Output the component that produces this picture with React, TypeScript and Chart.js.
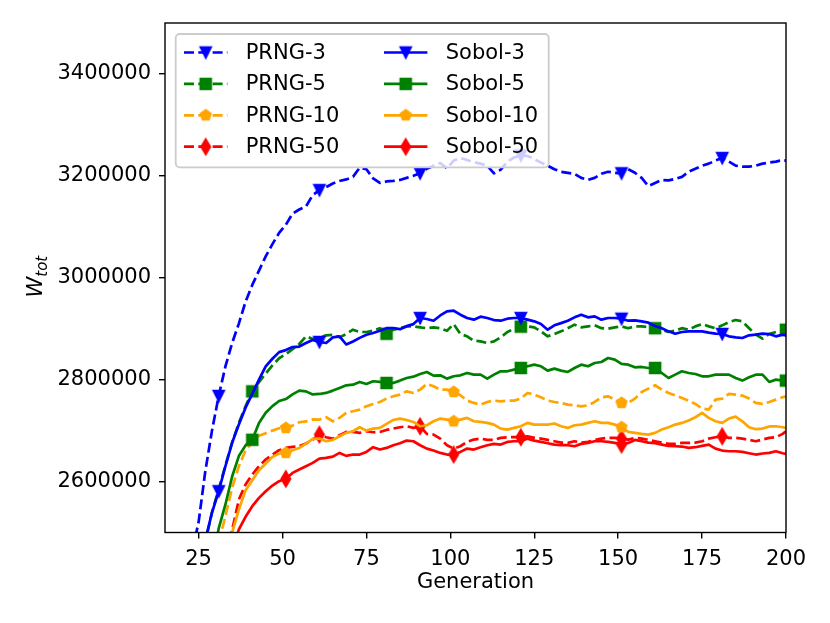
import { useEffect, useRef } from 'react'
import { Chart, registerables } from 'chart.js'

Chart.register(...registerables)

const generations = [
  21, 23, 25, 27, 29, 31, 33, 35, 37, 39, 41, 43, 45, 47, 49, 51, 53, 55, 57, 59,
  61, 63, 65, 67, 69, 71, 73, 75, 77, 79, 81, 83, 85, 87, 89, 91, 93, 95, 97, 99,
  101, 103, 105, 107, 109, 111, 113, 115, 117, 119, 121, 123, 125, 127, 129, 131, 133, 135, 137, 139,
  141, 143, 145, 147, 149, 151, 153, 155, 157, 159, 161, 163, 165, 167, 169, 171, 173, 175, 177, 179,
  181, 183, 185, 187, 189, 191, 193, 195, 197, 199, 200,
]

const prng3 = [
  2380000, 2460000, 2520000, 2620000, 2700000, 2768000, 2826000, 2872000, 2910000, 2953000,
  2986000, 3014000, 3042000, 3066000, 3088000, 3104000, 3126000, 3134000, 3140000, 3162000,
  3172000, 3178000, 3185000, 3190000, 3193000, 3198000, 3216000, 3213000, 3195000, 3186000,
  3189000, 3190000, 3192000, 3196000, 3200000, 3205000, 3214000, 3220000, 3225000, 3215000,
  3230000, 3235000, 3231000, 3227000, 3224000, 3220000, 3205000, 3212000, 3228000, 3236000,
  3240000, 3239000, 3233000, 3226000, 3220000, 3213000, 3208000, 3206000, 3204000, 3196000,
  3192000, 3196000, 3204000, 3208000, 3206000, 3205000, 3213000, 3206000, 3196000, 3180000,
  3186000, 3192000, 3191000, 3194000, 3198000, 3208000, 3214000, 3220000, 3224000, 3230000,
  3235000, 3228000, 3220000, 3218000, 3218000, 3220000, 3224000, 3226000, 3228000, 3231000, 3230000,
]
const prng5 = [
  2280000, 2330000, 2400000, 2480000, 2540000, 2585000, 2632000, 2677000, 2715000, 2748000,
  2777000, 2795000, 2812000, 2828000, 2842000, 2850000, 2860000, 2870000, 2885000, 2880000,
  2883000, 2887000, 2888000, 2883000, 2889600, 2898000, 2893500, 2893500, 2896000, 2901000,
  2890000, 2898000, 2901000, 2904600, 2904600, 2902700, 2901000, 2902700, 2901000, 2896000,
  2909000, 2889600, 2885000, 2876500, 2875200, 2871900, 2875200, 2883000, 2893500, 2900000,
  2904000, 2904600, 2902700, 2894800, 2885000, 2889600, 2894800, 2901000, 2907900, 2902700,
  2904600, 2906600, 2901000, 2900000, 2902700, 2904600, 2901000, 2904600, 2904600, 2903300,
  2901000, 2898000, 2893500, 2896000, 2901000, 2898000, 2904600, 2909200, 2904600, 2901000,
  2906600, 2913100, 2917000, 2914400, 2901000, 2888300, 2880400, 2889600, 2893500, 2889600, 2898000,
]
const prng10 = [
  2150000, 2220000, 2280000, 2340000, 2400000, 2480000, 2532000, 2588000, 2630000, 2661000,
  2677000, 2690000, 2695000, 2700000, 2704500, 2705300, 2709800, 2716400, 2718000, 2722000,
  2721600, 2726200, 2718300, 2724900, 2734700, 2738000, 2741200, 2747700, 2752300, 2756200,
  2762800, 2767300, 2770600, 2777100, 2773900, 2780400, 2791500, 2787000, 2780400, 2780400,
  2775900, 2769300, 2758900, 2754300, 2751000, 2756200, 2758900, 2757500, 2758900, 2758900,
  2762800, 2773900, 2770600, 2765400, 2758900, 2756200, 2754300, 2751000, 2749700, 2747700,
  2749700, 2756200, 2765400, 2767300, 2760800, 2754300, 2754300, 2762800, 2775900, 2782400,
  2789000, 2780400, 2773900, 2769300, 2764100, 2758900, 2752300, 2743200, 2741200, 2760800,
  2762800, 2771900, 2770600, 2768700, 2762800, 2754300, 2752300, 2756200, 2760800, 2765400, 2767300,
]
const prng50 = [
  2100000, 2160000, 2220000, 2280000, 2340000, 2400000, 2460000, 2505000, 2564700, 2594200,
  2613800, 2630100, 2643200, 2653000, 2661500, 2666000, 2668000, 2669300, 2674600, 2682400,
  2692200, 2687000, 2684300, 2690900, 2697400, 2697400, 2695500, 2698700, 2696800, 2697400,
  2701300, 2704000, 2706600, 2708500, 2705300, 2708500, 2693500, 2692200, 2684300, 2671300,
  2664700, 2669300, 2677800, 2682400, 2684300, 2681700, 2681700, 2685700, 2687000, 2687000,
  2687000, 2688900, 2685700, 2684300, 2681700, 2679100, 2676500, 2675800, 2679100, 2676500,
  2677800, 2681700, 2684300, 2685700, 2685700, 2684300, 2682400, 2685700, 2684300, 2681700,
  2679100, 2676500, 2673900, 2673900, 2675800, 2675800, 2676500, 2679100, 2684300, 2687000,
  2688900, 2685700, 2685700, 2684300, 2681700, 2679100, 2682400, 2685700, 2687000, 2693500, 2698700,
]
const sobol3 = [
  2300000, 2350000, 2420000, 2485000, 2539000, 2581000, 2630000, 2676000, 2712000, 2745000,
  2772000, 2800000, 2826000, 2841000, 2854000, 2858000, 2864000, 2865000, 2872000, 2878000,
  2874000, 2872000, 2883000, 2885000, 2869000, 2875000, 2882000, 2888000, 2891500, 2896000,
  2901000, 2901000, 2899000, 2905000, 2909000, 2921000, 2919000, 2915700, 2926000, 2934000,
  2935300, 2927500, 2921000, 2917700, 2923600, 2921000, 2917000, 2915700, 2919600, 2921000,
  2921000, 2917700, 2914400, 2909200, 2898000, 2906600, 2911000, 2915700, 2922300, 2927500,
  2922300, 2924200, 2917700, 2921000, 2921000, 2919600, 2915700, 2916400, 2914400, 2911800,
  2905300, 2901000, 2894800, 2890200, 2893500, 2894800, 2894800, 2894800, 2892200, 2890200,
  2889600, 2885000, 2883000, 2881700, 2887000, 2888300, 2890200, 2889600, 2885000, 2888300, 2887000,
]
const sobol5 = [
  2200000, 2260000, 2320000, 2380000, 2440000, 2508000, 2555000, 2610000, 2650000, 2671000,
  2682000, 2715000, 2735000, 2748000, 2758000, 2762000, 2771000, 2778500, 2777000, 2771000,
  2771900, 2773900, 2778500, 2783700, 2788900, 2790200, 2795500, 2791500, 2796800, 2795500,
  2793500, 2793500, 2798100, 2803300, 2805900, 2811100, 2815100, 2807900, 2808500, 2802000,
  2806600, 2808500, 2813100, 2809800, 2809800, 2802000, 2809800, 2816400, 2816400, 2819600,
  2822900, 2826200, 2829400, 2826200, 2817700, 2821600, 2817700, 2815100, 2822900, 2829400,
  2826200, 2832700, 2834700, 2842500, 2839300, 2830800, 2829400, 2824200, 2824900, 2822900,
  2822900, 2813100, 2803300, 2809800, 2816400, 2813100, 2811100, 2806600, 2806600, 2809800,
  2809800, 2809800, 2803300, 2798100, 2804600, 2809800, 2809800, 2795500, 2800000, 2798100, 2798100,
]
const sobol10 = [
  2100000, 2170000, 2230000, 2290000, 2340000, 2390000, 2440000, 2500000, 2545000, 2583000,
  2602600, 2622300, 2635300, 2648400, 2655000, 2656200, 2661500, 2666000, 2674600, 2683700,
  2684300, 2679100, 2681700, 2688900, 2695500, 2698700, 2706600, 2700000, 2704000, 2705300,
  2713100, 2720900, 2723600, 2720900, 2717000, 2708500, 2710500, 2718300, 2723600, 2721600,
  2718300, 2721600, 2724900, 2718300, 2717000, 2715100, 2711800, 2704000, 2702000, 2705300,
  2708500, 2715100, 2711800, 2711800, 2711800, 2713900, 2708500, 2705300, 2710500, 2711800,
  2715100, 2718300, 2715100, 2715100, 2711800, 2706600, 2697400, 2695500, 2693700, 2692200,
  2695500, 2702000, 2706600, 2711800, 2715100, 2719700, 2726200, 2734700, 2724900, 2718300,
  2715100, 2723600, 2727500, 2718300, 2706600, 2702800, 2704000, 2708100, 2708500, 2706600, 2705300,
]
const sobol50 = [
  2050000, 2110000, 2170000, 2230000, 2290000, 2340000, 2400000, 2460000, 2505900, 2530800,
  2551700, 2568000, 2581100, 2592200, 2600700, 2605300, 2617000, 2623600, 2630100, 2636600,
  2645100, 2646400, 2649000, 2656200, 2650400, 2653000, 2653000, 2658200, 2667400, 2662800,
  2666000, 2671300, 2675200, 2680400, 2679100, 2671300, 2664700, 2660800, 2656200, 2653000,
  2653000, 2658200, 2664700, 2662800, 2667400, 2671300, 2673900, 2672600, 2677800, 2679100,
  2679100, 2684300, 2680400, 2677800, 2675200, 2672600, 2671300, 2671300, 2669300, 2673900,
  2675800, 2679100, 2679100, 2677800, 2675800, 2672600, 2675800, 2681700, 2679100, 2676500,
  2675200, 2672600, 2670000, 2669300, 2668700, 2666000, 2667400, 2670000, 2672600, 2664700,
  2660800, 2659500, 2659500, 2658200, 2655600, 2653000, 2655000, 2656200, 2659500, 2655600, 2654300,
]

// generations that carry a marker
const marks3 = [31, 61, 91, 121, 151, 181]
const marks5 = [41, 81, 121, 161, 200]
const marks10 = [51, 101, 151]
const marksPrng50 = [61, 91, 121, 151, 181]
const marksSobol50 = [51, 101, 151]

const xTicks = [25, 50, 75, 100, 125, 150, 175, 200]
const yTicks = [2600000, 2800000, 3000000, 3200000, 3400000]

const FONT = 'DejaVu Sans'
const MS = 10.8 // marker size in px

const makeMarker = (shape: string, color: string) => {
  const c = document.createElement('canvas')
  c.width = 22
  c.height = 22
  const g = c.getContext('2d')!
  const m = 11
  const h = MS / 2
  g.beginPath()
  if (shape === 'v') {
    g.moveTo(m, m + h)
    g.lineTo(m - h, m - h)
    g.lineTo(m + h, m - h)
  } else if (shape === 's') {
    g.rect(m - h, m - h, MS, MS)
  } else if (shape === 'p') {
    for (let k = 0; k < 5; k++) {
      const a = -Math.PI / 2 + (k * 2 * Math.PI) / 5
      const px = m + h * Math.cos(a)
      const py = m + h * Math.sin(a)
      if (k === 0) g.moveTo(px, py)
      else g.lineTo(px, py)
    }
  } else {
    const dh = MS * 0.7071
    const dw = dh * 0.6
    g.moveTo(m, m - dh)
    g.lineTo(m + dw, m)
    g.lineTo(m, m + dh)
    g.lineTo(m - dw, m)
  }
  g.closePath()
  g.fillStyle = color
  g.strokeStyle = color
  g.lineWidth = 1.8
  g.fill()
  g.stroke()
  return c
}

const App = () => {
  const canvasRef = useRef<HTMLCanvasElement>(null)

  useEffect(() => {
    const series = [
      { label: 'PRNG-3', vals: prng3, color: 'blue', shape: 'v', dashed: true, marks: marks3 },
      { label: 'PRNG-5', vals: prng5, color: 'green', shape: 's', dashed: true, marks: marks5 },
      { label: 'PRNG-10', vals: prng10, color: 'orange', shape: 'p', dashed: true, marks: marks10 },
      { label: 'PRNG-50', vals: prng50, color: 'red', shape: 'd', dashed: true, marks: marksPrng50 },
      { label: 'Sobol-3', vals: sobol3, color: 'blue', shape: 'v', dashed: false, marks: marks3 },
      { label: 'Sobol-5', vals: sobol5, color: 'green', shape: 's', dashed: false, marks: marks5 },
      { label: 'Sobol-10', vals: sobol10, color: 'orange', shape: 'p', dashed: false, marks: marks10 },
      { label: 'Sobol-50', vals: sobol50, color: 'red', shape: 'd', dashed: false, marks: marksSobol50 },
    ].map((s) => ({ ...s, img: makeMarker(s.shape, s.color) }))

    const dash = [10, 4.3]

    // spines, axis titles and the matplotlib style legend
    const decor = {
      id: 'decor',
      afterDraw(chart: any) {
        const { ctx, chartArea: a } = chart
        ctx.save()
        ctx.strokeStyle = '#000'
        ctx.lineWidth = 1.4
        ctx.strokeRect(a.left, a.top, a.right - a.left, a.bottom - a.top)

        ctx.fillStyle = '#000'
        ctx.font = `21px "${FONT}"`
        ctx.textAlign = 'center'
        ctx.textBaseline = 'middle'
        ctx.fillText('Generation', (a.left + a.right) / 2, 583)

        // W_tot, rotated
        ctx.save()
        ctx.rotate(-Math.PI / 2)
        ctx.textAlign = 'left'
        ctx.textBaseline = 'alphabetic'
        ctx.font = `italic 21px "${FONT}"`
        ctx.fillText('W', -297.5, 41.7)
        const ww = ctx.measureText('W').width
        ctx.font = `italic 15px "${FONT}"`
        ctx.fillText('tot', -297.5 + ww, 46.7)
        ctx.restore()

        // legend
        const bx = 175.7
        const by = 34
        const bw = 373
        const bh = 133.3
        ctx.beginPath()
        ctx.roundRect(bx, by, bw, bh, 4)
        ctx.fillStyle = 'rgba(255,255,255,0.8)'
        ctx.fill()
        ctx.strokeStyle = '#cccccc'
        ctx.lineWidth = 1.8
        ctx.stroke()

        series.forEach((s, i) => {
          const col = Math.floor(i / 4)
          const row = i % 4
          const y = 52.5 + row * 31.4
          const x0 = col === 0 ? 184 : 384
          ctx.beginPath()
          ctx.setLineDash(s.dashed ? dash : [])
          ctx.strokeStyle = s.color
          ctx.lineWidth = 2.7
          ctx.lineCap = 'butt'
          ctx.moveTo(x0, y)
          ctx.lineTo(x0 + 43.4, y)
          ctx.stroke()
          ctx.setLineDash([])
          ctx.drawImage(s.img, x0 + 21.7 - 11, y - 11)
          ctx.fillStyle = '#000'
          ctx.font = `21px "${FONT}"`
          ctx.textAlign = 'left'
          ctx.textBaseline = 'middle'
          ctx.fillText(s.label, x0 + 61.7, y + 1)
        })
        ctx.restore()
      },
    }

    const chart = new Chart(canvasRef.current!, {
      type: 'line',
      data: {
        datasets: series.map((s, i) => ({
          label: s.label,
          data: generations.map((g, j) => ({ x: g, y: s.vals[j] })),
          borderColor: s.color,
          backgroundColor: s.color,
          borderWidth: 2.7,
          borderDash: s.dashed ? dash : [],
          borderJoinStyle: 'round',
          borderCapStyle: s.dashed ? 'butt' : 'square',
          pointStyle: s.img,
          pointRadius: (c: any) => (s.marks.includes(generations[c.dataIndex]) ? 6 : 0),
          pointHoverRadius: 0,
          tension: 0,
          fill: false,
          order: -i,
        })),
      },
      options: {
        animation: false,
        responsive: true,
        maintainAspectRatio: false,
        events: [],
        layout: { padding: { top: 23, right: 44, left: 0, bottom: 0 } },
        plugins: { legend: { display: false }, tooltip: { enabled: false } },
        scales: {
          x: {
            type: 'linear',
            min: 15,
            max: 200,
            afterBuildTicks: (scale: any) => {
              scale.ticks = xTicks.map((v) => ({ value: v }))
            },
            afterFit: (scale: any) => {
              scale.height = 90.5
            },
            grid: { drawOnChartArea: false, color: '#000', lineWidth: 1.4, tickLength: 6 },
            border: { display: false },
            ticks: {
              color: '#000',
              font: { family: FONT, size: 21 },
              padding: 8,
              maxRotation: 0,
              callback: (v: any) => String(v),
            },
          },
          y: {
            type: 'linear',
            min: 2500000,
            max: 3500000,
            afterBuildTicks: (scale: any) => {
              scale.ticks = yTicks.map((v) => ({ value: v }))
            },
            afterFit: (scale: any) => {
              scale.width = 165
            },
            grid: { drawOnChartArea: false, color: '#000', lineWidth: 1.4, tickLength: 6 },
            border: { display: false },
            ticks: {
              color: '#000',
              font: { family: FONT, size: 21 },
              padding: 8,
              callback: (v: any) => String(v),
            },
          },
        },
      },
      plugins: [decor],
    } as any)

    return () => chart.destroy()
  }, [])

  return (
    <div style={{ position: 'fixed', left: 0, top: 0, width: 830, height: 623, background: '#fff' }}>
      <canvas ref={canvasRef}></canvas>
    </div>
  )
}

export default App
